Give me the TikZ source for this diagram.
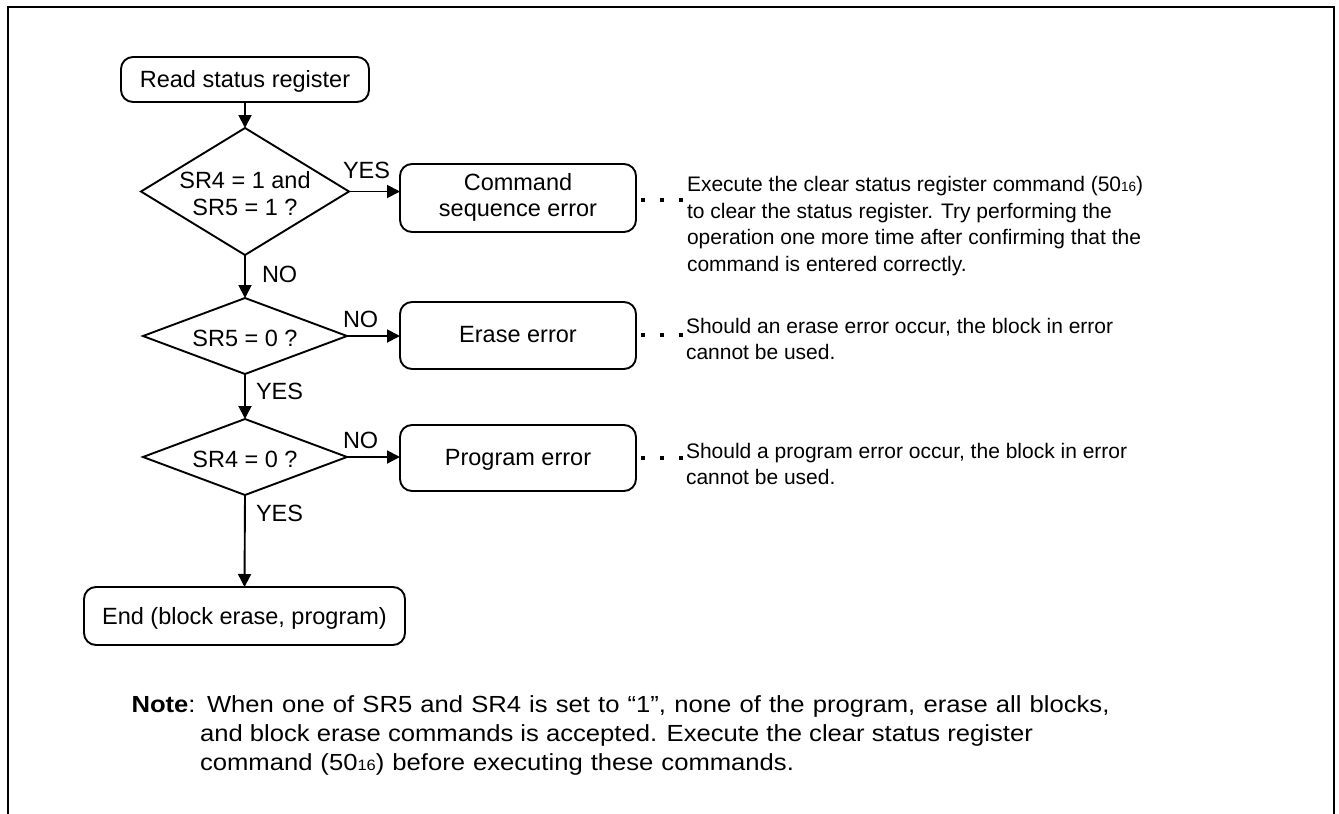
\documentclass[tikz,border=0pt]{standalone}
\usepackage{fontspec}
\setmainfont{Liberation Sans}
\newfontfamily\notefont{Liberation Sans}[FakeStretch=1.1]
\usetikzlibrary{shapes.geometric,arrows.meta}
\newcommand{\hexsub}[1]{{\fontsize{13.5}{13.5}\selectfont #1}}
\newcommand{\hexsubn}[1]{{\fontsize{15}{15}\selectfont #1}}
\begin{document}
\begin{tikzpicture}[x=1pt,y=-1pt,
  every node/.style={inner sep=0pt, outer sep=0pt},
  flowfont/.style={font=\fontsize{23.5}{26.5}\selectfont},
  box/.style={draw, line width=1.9pt, rounded corners=12pt, flowfont, align=center},
  dec/.style={draw, shape=diamond, line width=1.9pt},
  dtext/.style={flowfont, align=center, text depth=0pt},
  arr/.style={line width=1.9pt, -{Triangle[length=13pt,width=13pt]}},
  lab/.style={anchor=base west, flowfont},
  side/.style={anchor=base west, font=\fontsize{21}{26.5}\selectfont},
  note/.style={anchor=base west, font=\notefont\fontsize{23.3}{29}\selectfont},
  dots/.style={line width=3.5pt, dash pattern=on 4pt off 15pt},
  ]
\useasboundingbox (0,0) rectangle (1339,814);
% frame (open at the bottom)
\draw[line width=2pt] (7.5,814) -- (7.5,6.5) -- (1333.5,6.5) -- (1333.5,814);

% flowchart nodes
\node[box, minimum width=248pt, minimum height=45pt, text height=16pt, text depth=0pt] (read) at (245,79.5) {Read status register};
\node[dec, minimum width=208pt, minimum height=127pt] (d1) at (245,191.5) {};
\node[dtext, text height=47pt] (d1t) at (d1.center) {SR4 = 1 and\\SR5 = 1 ?};
\node[dec, minimum width=204pt, minimum height=76pt] (d2) at (245,336) {};
\node[dtext, text height=20pt] (d2t) at (d2.center) {SR5 = 0 ?};
\node[dec, minimum width=204pt, minimum height=76pt] (d3) at (245,457) {};
\node[dtext, text height=21pt] (d3t) at (d3.center) {SR4 = 0 ?};
\node[box, minimum width=321pt, minimum height=58pt, text height=17pt, text depth=0pt] (end) at (244.5,616) {End (block erase, program)};

\node[box, minimum width=236pt, minimum height=68pt, text height=37.4pt, text depth=0pt] (cmd) at (518,198) {Command\\sequence error};
\node[box, minimum width=236pt, minimum height=67pt, text height=13pt, text depth=0pt] (erase) at (518,335.5) {Erase error};
\node[box, minimum width=236pt, minimum height=66pt, text height=14pt, text depth=0pt] (prog) at (518,458) {Program error};

% connectors
\draw[arr] (read) -- (d1.north);
\draw[arr] (d1.south) -- (d2.north);
\draw[arr] (d2.south) -- (d3.north);
\draw[arr] (d3.south) -- (end.north);
\draw[arr] (d1.east) -- (d1.east -| cmd.west);
\draw[arr] (d2.east) -- (d2.east -| erase.west);
\draw[arr] (d3.east) -- (d3.east -| prog.west);

% branch labels
\node[lab] (l1) at (343,178) {YES};
\node[lab] (l2) at (262,282) {NO};
\node[lab] (l3) at (343,327) {NO};
\node[lab] (l4) at (256,399) {YES};
\node[lab] (l5) at (343,448) {NO};
\node[lab] (l6) at (256,521) {YES};

% side explanations
\coordinate (e1) at (684,200);
\coordinate (e2) at (684,335);
\coordinate (e3) at (684,458);
\draw[dots] (cmd.east |- e1) ++(5,0) -- (e1);
\draw[dots] (erase.east |- e2) ++(5,0) -- (e2);
\draw[dots] (prog.east |- e3) ++(5,0) -- (e3);

\node[side] (s1a) at (687,191.5) {Execute the clear status register command (50\hexsub{16})};
\node[side] (s1b) at (687,218.2) {to clear the status register. Try performing the};
\node[side] (s1c) at (687,244.9) {operation one more time after confirming that the};
\node[side] (s1d) at (687,271.6) {command is entered correctly.};
\node[side] (s2a) at (686,333.5) {Should an erase error occur, the block in error};
\node[side] (s2b) at (686,359.5) {cannot be used.};
\node[side] (s3a) at (686,458.5) {Should a program error occur, the block in error};
\node[side] (s3b) at (686,484.5) {cannot be used.};

% note
\node[note] (n1) at (131.5,712) {\makebox[978pt][s]{\textbf{Note}: When one of SR5 and SR4 is set to “1”, none of the program, erase all blocks,}};
\node[note] (n2) at (200,741) {and block erase commands is accepted. Execute the clear status register};
\node[note] (n3) at (200,770) {\makebox[594pt][s]{command (50\hexsubn{16}) before executing these commands.}};
\end{tikzpicture}
\end{document}
